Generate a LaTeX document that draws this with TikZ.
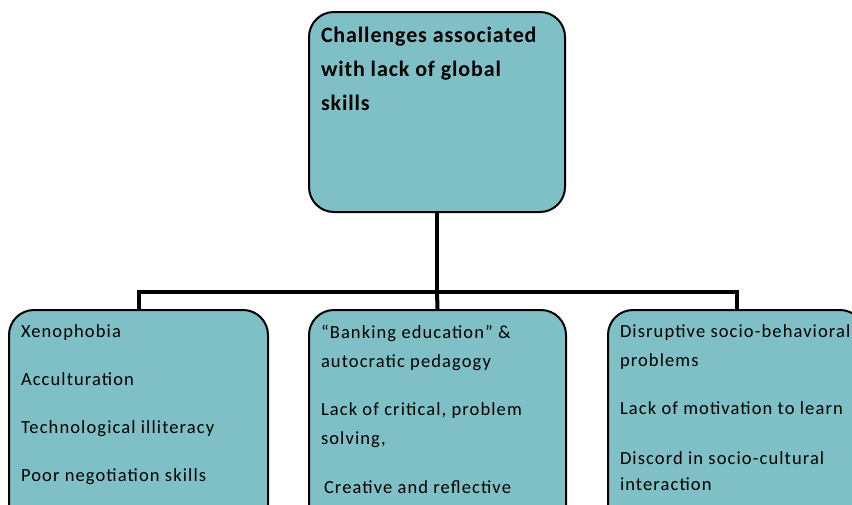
\documentclass[tikz,border=0pt]{standalone}
\usepackage{fontspec}
\setmainfont{Carlito}
\usepackage{tikz}
\definecolor{boxfill}{RGB}{126,192,197}

\begin{document}
\begin{tikzpicture}[x=1pt,y=-1pt,
  box/.style={draw, line width=2pt, fill=boxfill, rounded corners=25pt,
    anchor=north west, inner xsep=12pt, inner ysep=15pt, align=left},
  link/.style={line width=4pt}]
\useasboundingbox (0,0) rectangle (852,504);
\clip (0,0) rectangle (852,504);

\node[box, inner ysep=15.5pt] (top) at (308,11)
{\parbox[c][169pt][t]{232pt}{\raggedright\fontsize{22}{34}\bfseries\selectfont\addfontfeatures{LetterSpace=4}
Challenges associated\\ with lack of global\\ skills}};

\node[box] (left) at (8,309)
{\parbox[c][210pt][t]{235pt}{\raggedright\fontsize{18.5}{29}\selectfont\addfontfeatures{LetterSpace=6}
Xenophobia\\[19pt] Acculturation\\[19pt] Technological illiteracy\\[19pt] Poor negotiation skills}};

\node[box] (mid) at (308,309)
{\parbox[c][210pt][t]{233pt}{\raggedright\fontsize{18.5}{29}\selectfont\addfontfeatures{LetterSpace=6}
“Banking education” \&\\ autocratic pedagogy\\[19pt] Lack of critical, problem\\ solving,\\[20pt]
\hspace*{3pt}Creative and reflective}};

\node[box] (right) at (607,309)
{\parbox[c][210pt][t]{233pt}{\raggedright\fontsize{18.5}{29}\selectfont\addfontfeatures{LetterSpace=6}
Disruptive socio-behavioral\\ problems\\[19pt] Lack of motivation to learn\\[21pt] Discord in socio-cultural\\[-3pt] interaction}};

\draw[link] (top.south) -- ++(0,79) coordinate (split);
\draw[link] (split) -| (left.north);
\draw[link] (split) -- (mid.north);
\draw[link] (split) -| (right.north);
\end{tikzpicture}
\end{document}
